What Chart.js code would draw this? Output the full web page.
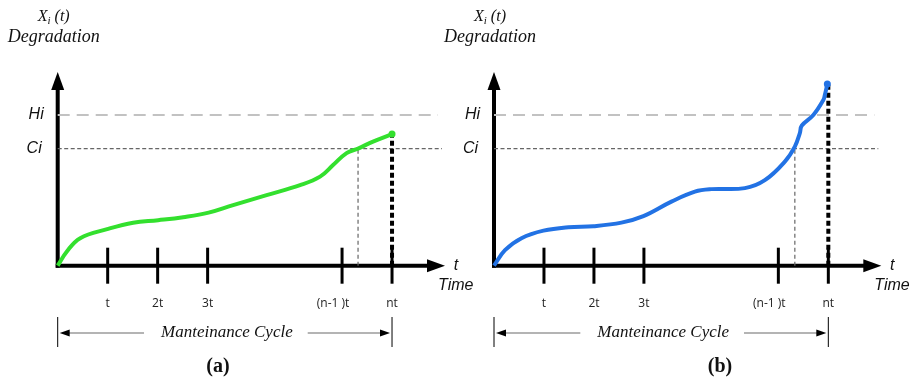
<!DOCTYPE html>
<html>
<head>
<meta charset="utf-8">
<script src="https://cdn.jsdelivr.net/npm/chart.js@4"></script>
<style>
body { margin: 0; background: #fff; }
#wrap { position: relative; width: 912px; height: 381px; }
canvas { position: absolute; left: 0; top: 0; }
</style>
</head>
<body>
<div id="wrap">
<canvas id="graficoA" width="912" height="381"></canvas>
<canvas id="graficoB" width="912" height="381"></canvas>
</div>
<script>
// Dados (eixo x em unidades de t, eixo y na mesma escala) //
var tickPos = [1, 2, 3, 5.69, 6.69];
var tickLabels = ['t', '2t', '3t', '(n-1 )t', 'nt'];
var limiteHi = 3.01;
var limiteCi = 2.34;
var xMax = 7.75;
var yMax = 3.87;
var fimHi = 7.61;
var fimCi = 7.69;

// curva (a) //
var xA = [0, 0.18, 0.45, 0.99, 1.51, 2.01, 2.51, 3.02, 3.51, 4.18, 4.85, 5.25, 5.51, 5.78, 6.01, 6.31, 6.69];
var yA = [0, 0.28, 0.55, 0.73, 0.86, 0.91, 0.97, 1.06, 1.21, 1.41, 1.61, 1.78, 2.01, 2.25, 2.34, 2.48, 2.63];
var cruzaA = 6.01;

// curva (b) //
var xB = [0, 0.22, 0.55, 0.99, 1.49, 1.99, 2.55, 2.99, 3.55, 4.02, 4.35, 5.02, 5.42, 5.82, 6.02, 6.12, 6.16, 6.39, 6.59, 6.62, 6.67];
var yB = [0, 0.31, 0.55, 0.70, 0.77, 0.79, 0.86, 0.99, 1.28, 1.48, 1.53, 1.55, 1.71, 2.08, 2.38, 2.65, 2.80, 3.01, 3.31, 3.41, 3.63];
var cruzaB = 6.02;
// ------------------------------------------- //

function pontos(xs, ys) {
    var p = [];
    for (var i = 0; i < xs.length; i++) p.push({x: xs[i], y: ys[i]});
    return p;
}

var serifa = '"Liberation Serif"';

// Plugin que desenha eixos, marcas e textos //
var desenho = {
    id: 'desenho',
    beforeDatasetsDraw: function(chart) {
        var ctx = chart.ctx, sx = chart.scales.x, sy = chart.scales.y;
        var x0 = sx.getPixelForValue(0), y0 = sy.getPixelForValue(0);
        var xt = sx.getPixelForValue(xMax), yt = sy.getPixelForValue(yMax);
        ctx.save();
        ctx.fillStyle = '#000';
        ctx.strokeStyle = '#000';
        ctx.lineWidth = 4;
        ctx.beginPath(); ctx.moveTo(x0, y0 + 2); ctx.lineTo(x0, yt + 16); ctx.stroke();
        ctx.beginPath(); ctx.moveTo(x0 - 2, y0); ctx.lineTo(xt - 16, y0); ctx.stroke();
        ctx.beginPath(); ctx.moveTo(x0, yt); ctx.lineTo(x0 - 6.5, yt + 18); ctx.lineTo(x0 + 6.5, yt + 18); ctx.closePath(); ctx.fill();
        ctx.beginPath(); ctx.moveTo(xt, y0); ctx.lineTo(xt - 18, y0 - 6.5); ctx.lineTo(xt - 18, y0 + 6.5); ctx.closePath(); ctx.fill();
        ctx.lineWidth = 3;
        tickPos.forEach(function(v) {
            var px = sx.getPixelForValue(v);
            ctx.beginPath(); ctx.moveTo(px, y0 - 18); ctx.lineTo(px, y0 + 18); ctx.stroke();
        });
        ctx.restore();
    },
    afterDatasetsDraw: function(chart, args, opts) {
        var ctx = chart.ctx, sx = chart.scales.x, sy = chart.scales.y;
        var x0 = sx.getPixelForValue(0), y0 = sy.getPixelForValue(0);
        var xt = sx.getPixelForValue(xMax);
        var xn = sx.getPixelForValue(tickPos[tickPos.length - 1]);
        ctx.save();
        ctx.textBaseline = 'middle';

        // rótulos das marcas
        ctx.fillStyle = '#222';
        ctx.font = '12px "Open Sans"';
        ctx.textAlign = 'center';
        tickPos.forEach(function(v, i) {
            ctx.fillText(tickLabels[i], sx.getPixelForValue(v) - (i == 3 ? 9 : 0), y0 + 38);
        });

        // Hi e Ci
        ctx.fillStyle = '#111';
        ctx.font = 'italic 16px "Liberation Sans"';
        ctx.textAlign = 'right';
        ctx.fillText('Hi', x0 - 14, sy.getPixelForValue(limiteHi));
        ctx.fillText('Ci', x0 - 16, sy.getPixelForValue(limiteCi));

        // t / Time
        ctx.textAlign = 'center';
        ctx.fillText('t', xt + 11, y0);
        ctx.textAlign = 'left';
        ctx.fillText('Time', xt - 7, y0 + 20);

        // X_i (t) / Degradation
        ctx.fillStyle = '#111';
        ctx.font = 'italic 18px ' + serifa;
        ctx.textAlign = 'center';
        ctx.fillText('Degradation', x0 - 4, 37);
        ctx.textAlign = 'left';
        ctx.font = 'italic 16px ' + serifa;
        var wX = ctx.measureText('X').width;
        var wI, wT;
        ctx.font = 'italic 11px ' + serifa;
        wI = ctx.measureText('i').width;
        ctx.font = 'italic 16px ' + serifa;
        wT = ctx.measureText(' (t)').width;
        var sx0 = x0 - 4 - (wX + wI + wT) / 2;
        ctx.fillText('X', sx0, 17);
        ctx.font = 'italic 11px ' + serifa;
        ctx.fillText('i', sx0 + wX, 21);
        ctx.font = 'italic 16px ' + serifa;
        ctx.fillText(' (t)', sx0 + wX + wI, 17);

        // Ciclo de manutenção
        var yc = 333;
        ctx.strokeStyle = '#000';
        ctx.lineWidth = 1;
        ctx.beginPath(); ctx.moveTo(x0, 317); ctx.lineTo(x0, 347); ctx.moveTo(xn, 317); ctx.lineTo(xn, 347); ctx.stroke();
        ctx.font = 'italic 17px ' + serifa;
        var wc = ctx.measureText('Manteinance Cycle').width;
        var xm = (x0 + xn) / 2 + 2;
        ctx.strokeStyle = '#b4b4b4';
        ctx.lineWidth = 2;
        ctx.beginPath();
        ctx.moveTo(x0 + 10, yc); ctx.lineTo(xm - wc / 2 - 17, yc);
        ctx.moveTo(xm + wc / 2 + 15, yc); ctx.lineTo(xn - 10, yc);
        ctx.stroke();
        ctx.fillStyle = '#000';
        ctx.beginPath(); ctx.moveTo(x0 + 2, yc); ctx.lineTo(x0 + 12, yc - 3.5); ctx.lineTo(x0 + 12, yc + 3.5); ctx.closePath(); ctx.fill();
        ctx.beginPath(); ctx.moveTo(xn - 2, yc); ctx.lineTo(xn - 12, yc - 3.5); ctx.lineTo(xn - 12, yc + 3.5); ctx.closePath(); ctx.fill();
        ctx.fillStyle = '#111';
        ctx.textAlign = 'center';
        ctx.fillText('Manteinance Cycle', xm, yc);

        // letra do painel
        ctx.fillStyle = '#111';
        ctx.font = 'bold 20px ' + serifa;
        ctx.fillText(opts.letra, x0 + opts.letraX, 367);
        ctx.restore();
    }
};

function montaGrafico(id, xs, ys, cruza, cor, esquerda, letra, letraX) {
    var n = xs.length;
    return new Chart(document.getElementById(id), {
        type: 'line',
        data: {
            datasets: [{
                data: pontos(xs, ys),
                borderColor: cor,
                borderWidth: 4,
                tension: 0.4,
                pointRadius: function(c) { return c.dataIndex == n - 1 ? 3.5 : 0; },
                pointBackgroundColor: cor,
                pointBorderWidth: 0,
                clip: false
            }, {
                data: [{x: tickPos[4], y: 0}, {x: tickPos[4], y: ys[n - 1]}],
                borderColor: '#000',
                borderWidth: 4,
                borderDash: [5, 3],
                pointRadius: 0,
                clip: false
            }, {
                data: [{x: cruza, y: 0}, {x: cruza, y: limiteCi}],
                borderColor: '#666',
                borderWidth: 1.2,
                borderDash: [4, 3],
                pointRadius: 0,
                clip: false
            }, {
                data: [{x: 0, y: limiteCi}, {x: fimCi, y: limiteCi}],
                borderColor: '#666',
                borderWidth: 1.2,
                borderDash: [4, 2.5],
                pointRadius: 0,
                clip: false
            }, {
                data: [{x: 0, y: limiteHi}, {x: fimHi, y: limiteHi}],
                borderColor: '#c2c2c2',
                borderWidth: 2,
                borderDash: [12, 7],
                pointRadius: 0,
                clip: false
            }]
        },
        options: {
            responsive: false,
            animation: false,
            devicePixelRatio: 1,
            layout: { padding: { left: esquerda, right: 912 - esquerda - 387.3, top: 72, bottom: 115.3 } },
            scales: {
                x: { type: 'linear', min: 0, max: xMax, display: false },
                y: { type: 'linear', min: 0, max: yMax, display: false }
            },
            plugins: {
                legend: { display: false },
                tooltip: { enabled: false },
                desenho: { letra: letra, letraX: letraX }
            }
        },
        plugins: [desenho]
    });
}

montaGrafico('graficoA', xA, yA, cruzaA, '#33e02e', 57.7, '(a)', 160.3);
montaGrafico('graficoB', xB, yB, cruzaB, '#2272e4', 494, '(b)', 226);
</script>
</body>
</html>
